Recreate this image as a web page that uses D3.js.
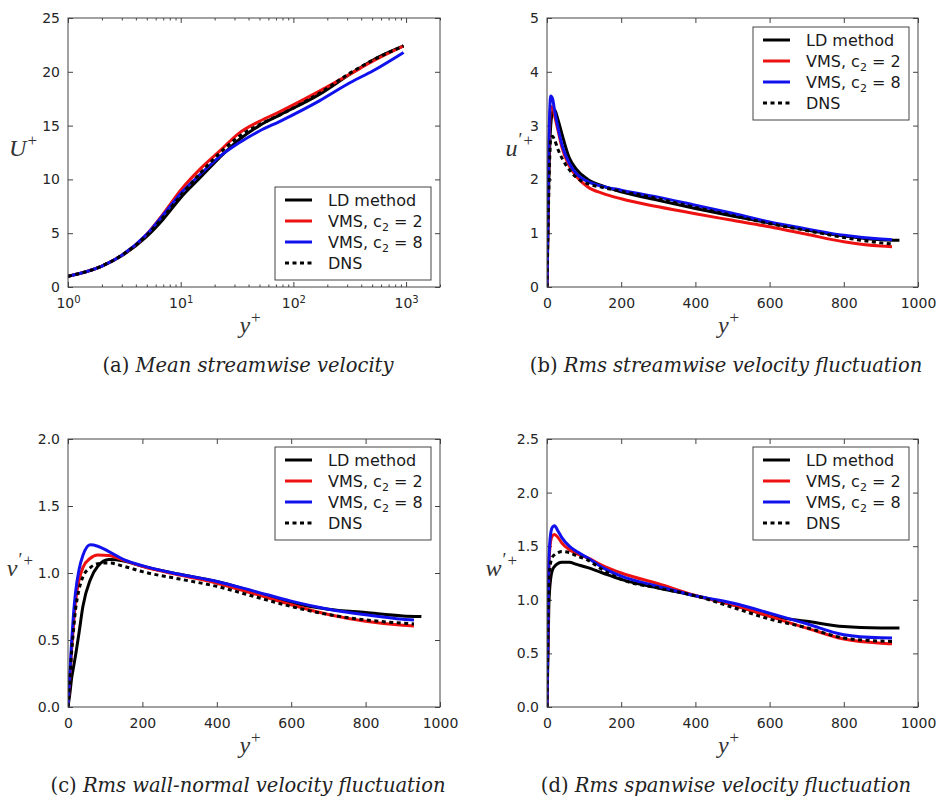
<!DOCTYPE html>
<html>
<head>
<meta charset="utf-8">
<script src="https://cdn.jsdelivr.net/npm/d3@7"></script>
<style>
body { margin: 0; background: #fff; }
</style>
</head>
<body>
<svg id="fig" width="938" height="804"></svg>
<script>
// legend entries, same order as drawn
var seriesNames = ['LD method', 'VMS, c2 = 2', 'VMS, c2 = 8', 'DNS'];
var seriesColors = ['#000000', '#ee1111', '#1111ee', '#000000'];

// (a) mean streamwise velocity, log y+
var yPlusMean = [1, 2, 3, 5, 7, 10, 15, 22, 33, 50, 76, 170, 320, 510, 950];
var meanLD    = [1, 1.95, 2.9, 4.7, 6.3, 8.3, 10.2, 12.0, 13.7, 15.0, 16.0, 17.9, 19.8, 21.1, 22.4];
var meanVMS2  = [1, 1.95, 2.95, 4.9, 6.8, 9.0, 11.0, 12.6, 14.3, 15.4, 16.3, 18.2, 19.8, 21.0, 22.4];
var meanVMS8  = [1, 1.95, 2.95, 4.9, 6.7, 8.7, 10.5, 12.1, 13.4, 14.5, 15.4, 17.3, 19.0, 20.1, 21.8];
var meanDNS   = [1, 1.95, 2.95, 4.8, 6.5, 8.5, 10.6, 12.4, 14.0, 15.1, 16.0, 18.0, 19.9, 21.1, 22.4];

// y+ stations for the rms profiles (LD runs a bit further out)
var yPlusRms = [0, 5, 10, 15, 20, 30, 40, 60, 80, 110, 150, 200, 300, 400, 500, 600, 700, 800, 900, 930];
var yPlusRmsLD = [0, 5, 10, 15, 20, 30, 40, 60, 80, 110, 150, 200, 300, 400, 500, 600, 700, 800, 900, 950];

// (b) u'+
var uLD   = [0, 2.0, 3.0, 3.25, 3.3, 3.1, 2.85, 2.4, 2.18, 2.0, 1.88, 1.77, 1.61, 1.46, 1.32, 1.19, 1.06, 0.95, 0.88, 0.87];
var uVMS2 = [0, 2.4, 3.35, 3.35, 3.2, 2.9, 2.6, 2.25, 2.05, 1.86, 1.74, 1.64, 1.49, 1.36, 1.24, 1.12, 0.98, 0.84, 0.76, 0.75];
var uVMS8 = [0, 2.6, 3.55, 3.5, 3.3, 2.95, 2.65, 2.3, 2.1, 1.96, 1.87, 1.8, 1.67, 1.52, 1.37, 1.21, 1.08, 0.96, 0.89, 0.88];
var uDNS  = [0, 1.8, 2.75, 2.8, 2.74, 2.55, 2.4, 2.18, 2.03, 1.92, 1.85, 1.78, 1.64, 1.48, 1.33, 1.18, 1.05, 0.92, 0.82, 0.8];

// (c) v'+
var vLD   = [0, 0.1, 0.22, 0.3, 0.38, 0.56, 0.75, 0.95, 1.05, 1.1, 1.09, 1.05, 0.99, 0.937, 0.86, 0.78, 0.73, 0.705, 0.68, 0.675];
var vVMS2 = [0, 0.22, 0.44, 0.62, 0.78, 0.95, 1.04, 1.11, 1.135, 1.13, 1.095, 1.05, 0.985, 0.924, 0.845, 0.763, 0.69, 0.64, 0.61, 0.605];
var vVMS8 = [0, 0.25, 0.5, 0.7, 0.85, 1.03, 1.13, 1.21, 1.2, 1.16, 1.1, 1.055, 0.99, 0.937, 0.865, 0.79, 0.73, 0.688, 0.655, 0.65];
var vDNS  = [0, 0.2, 0.42, 0.58, 0.72, 0.88, 0.97, 1.04, 1.07, 1.075, 1.05, 1.01, 0.955, 0.9, 0.825, 0.75, 0.69, 0.65, 0.625, 0.62];

// (d) w'+
var wLD   = [0, 0.95, 1.2, 1.28, 1.31, 1.34, 1.35, 1.35, 1.33, 1.3, 1.25, 1.19, 1.11, 1.037, 0.953, 0.85, 0.8, 0.75, 0.737, 0.736];
var wVMS2 = [0, 1.3, 1.55, 1.6, 1.61, 1.58, 1.53, 1.47, 1.43, 1.39, 1.32, 1.25, 1.15, 1.04, 0.953, 0.845, 0.736, 0.634, 0.595, 0.59];
var wVMS8 = [0, 1.35, 1.62, 1.68, 1.69, 1.64, 1.58, 1.5, 1.45, 1.39, 1.3, 1.22, 1.125, 1.037, 0.97, 0.876, 0.776, 0.674, 0.645, 0.643];
var wDNS  = [0, 1.15, 1.35, 1.4, 1.42, 1.44, 1.45, 1.44, 1.41, 1.37, 1.28, 1.19, 1.11, 1.037, 0.93, 0.82, 0.74, 0.643, 0.615, 0.612];

var logTicks = [1, 10, 100, 1000];
var linTicks = [0, 200, 400, 600, 800, 1000];

var svg = d3.select('#fig');
var tickFont = 'DejaVu Sans, Bitstream Vera Sans, sans-serif';
var serifFont = 'DejaVu Serif, serif';
var mathFont = 'Liberation Serif, serif';
var frameColor = '#444';

function drawPanel(p)
{
    var g = svg.append('g');
    var x = p.log ? d3.scaleLog().domain([1, 2000]).range([p.left, p.right])
                  : d3.scaleLinear().domain([0, 1000]).range([p.left, p.right]);
    var y = d3.scaleLinear().domain([0, p.ymax]).range([p.bottom, p.top]);

    var clipId = 'clip' + p.tag;
    svg.append('clipPath').attr('id', clipId).append('rect')
        .attr('x', p.left).attr('y', p.top)
        .attr('width', p.right - p.left).attr('height', p.bottom - p.top);

    // axes, ticks pointing inward on all four sides
    var xb = g.append('g').attr('transform', 'translate(0,' + p.bottom + ')');
    var xt = g.append('g').attr('transform', 'translate(0,' + p.top + ')');
    if (p.log) {
        var minor = [];
        for (var dec = 1; dec <= 1000; dec *= 10) {
            for (var k = 2; k <= 9; k++) {
                if (dec * k <= 2000) minor.push(dec * k);
            }
        }
        xb.append('g').call(d3.axisBottom(x).tickValues(minor).tickSize(-2.5).tickFormat(''));
        xt.append('g').call(d3.axisTop(x).tickValues(minor).tickSize(-2.5).tickFormat(''));
        var major = xb.append('g').call(d3.axisBottom(x).tickValues(logTicks).tickSize(-5).tickPadding(11)
            .tickFormat(function(){ return ''; }));
        major.selectAll('.tick text').each(function(d){
            var t = d3.select(this);
            t.append('tspan').text('10');
            t.append('tspan').attr('dy', '-0.45em').attr('font-size', '10px')
                .text(Math.round(Math.log10(d)));
        });
        xt.append('g').call(d3.axisTop(x).tickValues(logTicks).tickSize(-5).tickFormat(''));
    } else {
        xb.call(d3.axisBottom(x).tickValues(linTicks).tickSize(-5).tickPadding(11).tickFormat(d3.format('d')));
        xt.call(d3.axisTop(x).tickValues(linTicks).tickSize(-5).tickFormat(''));
    }
    g.append('g').attr('transform', 'translate(' + p.left + ',0)')
        .call(d3.axisLeft(y).tickValues(p.yticks).tickSize(-5).tickPadding(8).tickFormat(d3.format(p.yfmt)));
    g.append('g').attr('transform', 'translate(' + p.right + ',0)')
        .call(d3.axisRight(y).tickValues(p.yticks).tickSize(-5).tickFormat(''));

    g.selectAll('.domain').remove();
    g.selectAll('.tick line').attr('stroke', frameColor);
    g.selectAll('.tick text').attr('font-family', tickFont).attr('font-size', '14px').attr('fill', '#262626');

    // curves
    var line = d3.line()
        .x(function(d){ return x(d[0]); })
        .y(function(d){ return y(d[1]); })
        .curve(d3.curveMonotoneX);
    var curves = g.append('g').attr('clip-path', 'url(#' + clipId + ')');
    p.series.forEach(function(s, i){
        var pts = s.xs.map(function(v, j){ return [v, s.ys[j]]; });
        curves.append('path').datum(pts)
            .attr('d', line)
            .attr('fill', 'none')
            .attr('stroke', seriesColors[i])
            .attr('stroke-width', 3)
            .attr('stroke-dasharray', i === 3 ? '4,3.5' : null)
            .attr('stroke-linejoin', 'round');
    });

    // frame
    g.append('rect')
        .attr('x', p.left).attr('y', p.top)
        .attr('width', p.right - p.left).attr('height', p.bottom - p.top)
        .attr('fill', 'none').attr('stroke', frameColor).attr('stroke-width', 1);

    // legend
    var lg = g.append('g').attr('transform', 'translate(' + p.legX + ',' + p.legY + ')');
    lg.append('rect').attr('width', 156).attr('height', 93)
        .attr('fill', '#fff').attr('stroke', frameColor).attr('stroke-width', 1);
    seriesNames.forEach(function(name, i){
        var ry = 13 + i * 21;
        lg.append('line').attr('x1', 10).attr('x2', 37).attr('y1', ry).attr('y2', ry)
            .attr('stroke', seriesColors[i])
            .attr('stroke-width', 3)
            .attr('stroke-dasharray', i === 3 ? '4,3.5' : null);
        var t = lg.append('text').attr('x', 53).attr('y', ry + 6)
            .attr('font-family', tickFont).attr('font-size', '16px').attr('fill', '#1a1a1a');
        var m = name.match(/^(VMS, c)2( = \d)$/);
        if (m) {
            t.append('tspan').text(m[1]);
            t.append('tspan').attr('dy', 4).attr('font-size', '11px').text('2');
            t.append('tspan').attr('dy', -4).text(m[2]);
        } else {
            t.text(name);
        }
    });

    // axis labels
    var xlab = g.append('text').attr('x', (p.left + p.right) / 2 - 4).attr('y', p.bottom + 46)
        .attr('text-anchor', 'middle').attr('font-family', mathFont).attr('fill', '#333');
    xlab.append('tspan').attr('font-style', 'italic').attr('font-size', '24px').text('y');
    xlab.append('tspan').attr('font-size', '17px').attr('dx', 1).attr('dy', -10).text('+');

    var ylab = g.append('text').attr('x', p.left - p.ylabOff).attr('y', (p.top + p.bottom) / 2 + 3)
        .attr('text-anchor', 'end').attr('font-family', mathFont).attr('fill', '#333');
    ylab.append('tspan').attr('font-style', 'italic').attr('font-size', '24px').text(p.ylab);
    if (p.prime) {
        ylab.append('tspan').attr('font-size', '18px').attr('dx', 1).attr('dy', -10).text('\u2032');
        ylab.append('tspan').attr('font-size', '17px').attr('dx', 1).text('+');
    } else {
        ylab.append('tspan').attr('font-size', '17px').attr('dx', 1).attr('dy', -10).text('+');
    }

    // caption
    var cap = g.append('text').attr('x', p.capX).attr('y', p.bottom + 85)
        .attr('text-anchor', 'middle').attr('font-family', serifFont).attr('font-size', '19.5px').attr('fill', '#222');
    cap.append('tspan').text('(' + p.tag + ') ');
    cap.append('tspan').attr('font-style', 'italic').text(p.caption);
}

drawPanel({
    tag: 'a', log: true, left: 68, right: 440, top: 18, bottom: 287,
    ymax: 25, yticks: [0, 5, 10, 15, 20, 25], yfmt: 'd',
    ylab: 'U', prime: false, ylabOff: 31,
    legX: 275, legY: 187, capX: 248, caption: 'Mean streamwise velocity',
    series: [
        { xs: yPlusMean, ys: meanLD }, { xs: yPlusMean, ys: meanVMS2 },
        { xs: yPlusMean, ys: meanVMS8 }, { xs: yPlusMean, ys: meanDNS }
    ]
});
drawPanel({
    tag: 'b', log: false, left: 547, right: 918, top: 18, bottom: 287,
    ymax: 5, yticks: [0, 1, 2, 3, 4, 5], yfmt: 'd',
    ylab: 'u', prime: true, ylabOff: 14,
    legX: 753, legY: 27, capX: 726, caption: 'Rms streamwise velocity fluctuation',
    series: [
        { xs: yPlusRmsLD, ys: uLD }, { xs: yPlusRms, ys: uVMS2 },
        { xs: yPlusRms, ys: uVMS8 }, { xs: yPlusRms, ys: uDNS }
    ]
});
drawPanel({
    tag: 'c', log: false, left: 68, right: 440, top: 439, bottom: 707,
    ymax: 2, yticks: [0, 0.5, 1, 1.5, 2], yfmt: '.1f',
    ylab: 'v', prime: true, ylabOff: 35,
    legX: 275, legY: 447, capX: 248, caption: 'Rms wall-normal velocity fluctuation',
    series: [
        { xs: yPlusRmsLD, ys: vLD }, { xs: yPlusRms, ys: vVMS2 },
        { xs: yPlusRms, ys: vVMS8 }, { xs: yPlusRms, ys: vDNS }
    ]
});
drawPanel({
    tag: 'd', log: false, left: 547, right: 918, top: 439, bottom: 707,
    ymax: 2.5, yticks: [0, 0.5, 1, 1.5, 2, 2.5], yfmt: '.1f',
    ylab: 'w', prime: true, ylabOff: 30,
    legX: 753, legY: 447, capX: 726, caption: 'Rms spanwise velocity fluctuation',
    series: [
        { xs: yPlusRmsLD, ys: wLD }, { xs: yPlusRms, ys: wVMS2 },
        { xs: yPlusRms, ys: wVMS8 }, { xs: yPlusRms, ys: wDNS }
    ]
});
</script>
</body>
</html>
